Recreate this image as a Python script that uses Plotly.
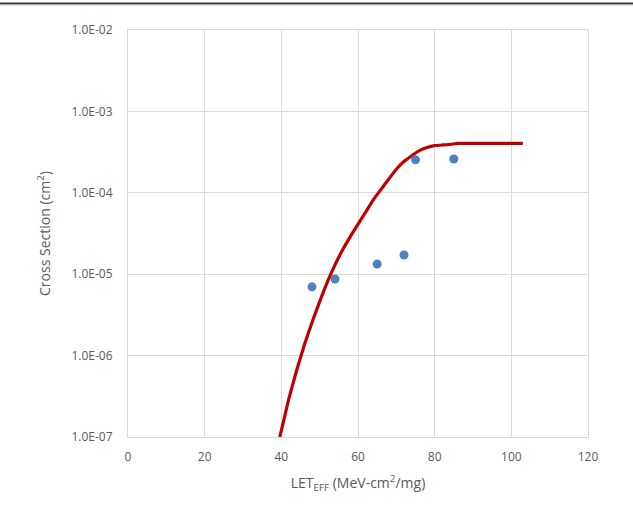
import plotly.graph_objects as go

# Measured heavy-ion cross sections
let_points = [48, 54, 65, 72, 75, 85]
xs_points = [7.0e-6, 8.7e-6, 1.33e-5, 1.72e-5, 2.55e-4, 2.6e-4]

# Weibull fit curve
let_fit = [39.6, 41, 42, 44, 46, 48, 50, 52, 54, 56, 58, 60, 62, 64, 66, 68,
           70, 72, 74, 76, 78, 80, 82, 84, 86, 90, 95, 103]
xs_fit = [1.0e-7, 1.9e-7, 3.0e-7, 6.6e-7, 1.35e-6, 2.55e-6, 4.6e-6, 8.0e-6,
          1.3e-5, 2.0e-5, 2.9e-5, 4.1e-5, 5.8e-5, 8.2e-5, 1.1e-4, 1.47e-4,
          1.95e-4, 2.42e-4, 2.85e-4, 3.3e-4, 3.6e-4, 3.8e-4, 3.87e-4, 3.92e-4,
          4.05e-4, 4.05e-4, 4.05e-4, 4.05e-4]

x_ticks = [0, 20, 40, 60, 80, 100, 120]
y_ticks = [1e-7, 1e-6, 1e-5, 1e-4, 1e-3, 1e-2]
y_tick_text = ["1.0E-07", "1.0E-06", "1.0E-05", "1.0E-04", "1.0E-03", "1.0E-02"]

font_family = "Open Sans, Liberation Sans, sans-serif"
grid_col = "#D9D9D9"
text_col = "#595959"

fig = go.Figure()
fig.add_trace(go.Scatter(
    x=let_fit, y=xs_fit, mode="lines",
    line=dict(color="#C00000", width=3.2, shape="spline", smoothing=0.5),
    hoverinfo="skip", showlegend=False,
))
fig.add_trace(go.Scatter(
    x=let_points, y=xs_points, mode="markers",
    marker=dict(color="#4F81BD", size=9),
    showlegend=False,
))

fig.update_layout(
    width=633, height=510,
    margin=dict(l=128, r=45, t=30, b=73),
    paper_bgcolor="white", plot_bgcolor="white",
    font=dict(family=font_family, size=12, color=text_col),
    xaxis=dict(
        range=[0, 120], tickvals=x_ticks, showgrid=True, gridcolor=grid_col,
        gridwidth=1, zeroline=False, showline=True, linecolor=grid_col,
        mirror=True, ticks="", ticklabelstandoff=9,
        tickfont=dict(size=12, color=text_col),
        title=dict(text="LET<sub>EFF</sub> (MeV-cm<sup>2</sup>/mg)",
                   font=dict(size=14, color=text_col), standoff=13),
    ),
    yaxis=dict(
        type="log", range=[-7, -2], tickvals=y_ticks, ticktext=y_tick_text,
        showgrid=True, gridcolor=grid_col, gridwidth=1, zeroline=False,
        showline=True, linecolor=grid_col, mirror=True,
        ticks="outside", ticklen=12, tickcolor="rgba(0,0,0,0)",
        tickfont=dict(size=12, color=text_col),
        title=dict(text="Cross Section (cm<sup>2</sup>)",
                   font=dict(size=14, color=text_col), standoff=17),
    ),
)

# Dark rule across the top of the page
fig.add_shape(type="line", xref="paper", yref="paper",
              x0=-128 / 460, x1=505 / 460, y0=(437 - 3.5) / 407, y1=(437 - 3.5) / 407,
              line=dict(color="#333333", width=2))
fig.add_shape(type="line", xref="paper", yref="paper",
              x0=-128 / 460, x1=505 / 460, y0=(437 - 5) / 407, y1=(437 - 5) / 407,
              line=dict(color="#C8C8C8", width=1))

fig.write_html("out.html")
